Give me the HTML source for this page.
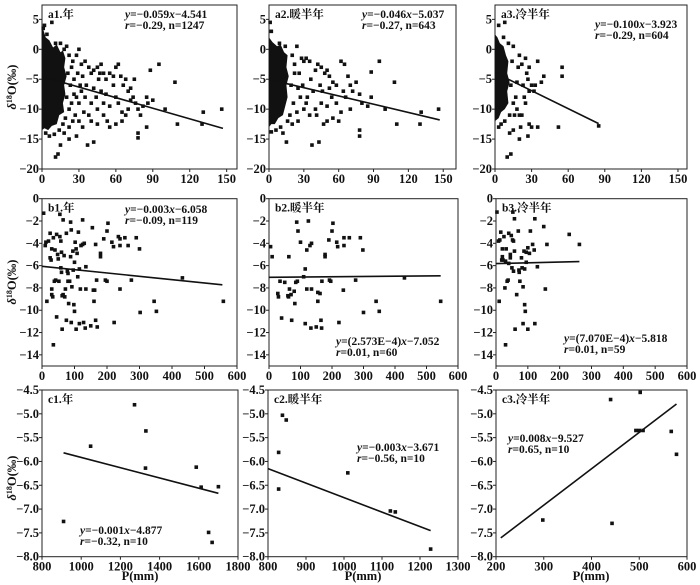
<!DOCTYPE html>
<html><head><meta charset="utf-8">
<style>
html,body{margin:0;padding:0;background:#fff;}
svg{display:block;font-family:"Liberation Serif","Times New Roman","Noto Serif CJK SC",serif;}
text{font-family:"Liberation Serif","Times New Roman","Noto Serif CJK SC",serif;}
.tk{font-size:12.5px;font-weight:bold;fill:#111;}
.tt{font-size:11.5px;font-weight:bold;fill:#111;}
.eq{font-size:11.5px;font-weight:bold;fill:#111;}
</style></head>
<body>
<svg id="chart" width="700" height="585" viewBox="0 0 700 585"></svg>
<script>
// ---- data ----
const a1Points=[[8,4.5],[20,0.5],[30,0],[35,-2],[38,-3],[40,-4],[42,-3.5],[45,-3],[48,-2.5],[50,-4],[52,-5],[55,-4],[58,-4.5],[60,-3],[62,-2.5],[64,-4.5],[66,-6],[68,-5],[70,-7],[72,-6.5],[74,-8],[76,-9],[78,-10],[80,-11],[85,-8],[88,-3.5],[90,-8.5],[95,-2.5],[100,-10],[108,-5.5],[110,-12.5],[131,-10.5],[130,-12.5],[146,-10],[78,-14],[78,-14.8],[85,-13],[65,-12],[60,-12.5],[55,-13],[50,-11],[45,-12.5],[42,-15.5],[37,-16],[28,-14.5],[22,-15],[15,-16],[13,-17.5],[11,-18],[33,-13],[40,-9],[45,-10],[50,-9],[55,-9.5],[60,-8],[65,-10.5],[70,-10],[35,-8],[38,-11],[30,-12],[25,-12],[32,-7],[48,-7],[52,-7.5],[58,-6],[36,-6],[42,-6.5],[46,-5],[62,-9],[68,-11],[72,-8.5],[75,-5],[82,-9.5],[86,-9],[28,-1],[32,-2.5],[26,-5],[30,-9],[34,-10.5],[27,-11],[22,-13],[18,-14],[24,-3],[29,-4],[31,-6],[44,-8],[40,-12],[53,-12],[47,-4],[22,-1],[25,-2],[21,-4],[23,-6],[20,-8],[24,-9],[22,-10],[19,-11.5],[26,-7.5],[28,-8],[33,-4.5],[17,-12.5],[14,-13.5],[10,-14.2],[6,-14.5],[3,-14],[18,0],[15,1],[11,1],[4,2.5],[1,3.5],[2,4]];
const a2Points=[[1,4.5],[2,3],[24,0.5],[28,-1.5],[30,-2],[32,-1.5],[35,-2],[40,-3.5],[42,-2.5],[45,-3],[48,-4],[50,-3.5],[52,-4.5],[55,-5.5],[58,-6],[62,-2],[65,-2.5],[68,-4.5],[70,-6],[72,-7],[75,-5.5],[78,-7.5],[80,-9],[85,-9.5],[88,-3.8],[88,-8],[95,-2],[100,-10],[108,-5.5],[110,-12.5],[130,-12.5],[131,-10.5],[146,-10],[78,-13.5],[78,-14.5],[60,-12],[55,-11.5],[50,-12],[47,-12.5],[43,-15.5],[37,-16],[15,-15.5],[12,-14],[35,-11],[40,-10],[45,-9],[50,-9.5],[58,-9],[62,-10.5],[66,-8],[70,-10],[30,-10],[25,-12],[33,-8],[38,-7],[46,-7],[52,-6.5],[36,-5],[26,-4],[29,-6],[32,-9],[41,-11],[54,-8],[64,-7],[44,-6],[20,-12.5],[22,-4],[27,-8],[20,-1],[22,-2.5],[19,-6],[21,-9],[18,-11],[24,-10.5],[16,-12],[10,-13],[6,-13.5],[2,-13.8],[14,0.5],[9,1],[25,-6.5]];
const a3Points=[[3,4],[8,4.5],[55,-3],[55,-4.5],[35,-2],[40,-4.5],[38,-5.5],[30,-6],[32,-7],[25,-9],[20,-11],[15,-13.5],[13,-17.5],[10,-18],[20,-15],[27,-14.5],[28,-12.5],[35,-13],[52,-13],[30,-13],[22,-11],[18,-10],[24,-8],[26,-4],[28,-3],[20,-1],[15,0.5],[22,-2.5],[12,-14],[5,-12.5],[28,-7],[33,-6],[18,-5.5],[23,-6],[17,-8],[19,-3],[25,-1.5],[27,-5],[85,-12.8],[16,-11],[21,-13],[14,-2],[13,-6],[15,-9],[12,-11],[8,-12],[3,-13],[11,1],[7,2]];
const a1Cloud=[[0,4],[3,2],[6,1.5],[9,0.3],[12,0.8],[15,-0.5],[17,-0.2],[19,-1.5],[18,-3],[20,-4.5],[18,-6],[19,-7.5],[17,-9],[18,-10.5],[14,-11],[12,-12.5],[8,-12.8],[5,-13.5],[2,-13.2],[0,-13.5]];
const a2Cloud=[[0,2],[3,1.2],[7,0.5],[10,0.8],[13,-0.5],[16,-1],[15,-3],[17,-4.5],[15,-6],[16,-8],[14,-9.5],[12,-11],[8,-11.5],[5,-12.5],[2,-12.5],[0,-13]];
const a3Cloud=[[0,2.5],[2,2],[4,1],[7,0.5],[9,-1],[11,-2],[10,-4],[12,-5.5],[10,-7],[11,-9],[8,-10],[5,-10.5],[3,-11.5],[0,-12]];
const b1Points=[[5,-1.3],[10,-4.2],[12,-3.9],[15,-9.2],[20,-3.8],[25,-3.1],[25,-5.3],[30,-4.5],[28,-5.5],[35,-3.5],[30,-8.1],[30,-8.6],[33,-8.8],[35,-13.1],[38,-7.4],[40,-4.6],[42,-7.3],[45,-10.6],[45,-3.2],[48,-5],[50,-5.4],[52,-7.4],[55,-1.4],[55,-3.4],[58,-6.2],[58,-3.8],[60,-4.8],[60,-6.6],[62,-8.7],[62,-11.7],[65,-1.9],[65,-8.6],[68,-5.1],[70,-8.8],[72,-8.1],[75,-3.1],[75,-10.9],[78,-6.5],[80,-6.7],[80,-7.4],[82,-9.4],[85,-7.4],[88,-2.1],[88,-5.2],[90,-2.8],[90,-11.1],[92,-7.9],[95,-4.7],[96,-6.4],[98,-9.5],[100,-10.1],[100,-5.7],[102,-3.9],[105,-4.5],[105,-11.7],[108,-4.9],[110,-7],[112,-3],[115,-11.2],[115,-6.3],[118,-8.1],[120,-4.2],[125,-1.9],[125,-4.1],[128,-11.1],[130,-4],[133,-11.6],[135,-8.1],[135,-6.1],[150,-11.4],[155,-2.6],[158,-8.2],[160,-9.2],[162,-8.2],[165,-4.1],[165,-10.9],[168,-7.3],[170,-11.5],[180,-4.9],[180,-5.2],[190,-3.6],[195,-7.3],[200,-7.4],[200,-2.9],[203,-2.2],[215,-3.9],[220,-4.3],[222,-11.1],[235,-3.4],[240,-3.6],[240,-8.1],[240,-4.2],[255,-3.5],[265,-4.2],[275,-7.3],[290,-3.5],[300,-4.5],[302,-10.2],[345,-9.2],[352,-10.1],[432,-7.1],[558,-9.2]];
const b2Points=[[5,-4.3],[10,-5.2],[28,-8.5],[30,-8.8],[35,-7.4],[40,-10.7],[50,-7.5],[60,-8.7],[62,-8.8],[63,-5.2],[65,-8.1],[70,-8.6],[72,-10.9],[80,-8.3],[82,-9.4],[85,-7.5],[88,-2.1],[90,-7.4],[92,-2.9],[100,-3.9],[110,-7],[115,-6.3],[115,-11.2],[120,-8.1],[120,-4.6],[125,-2],[130,-4.2],[133,-11.6],[135,-4],[135,-8.1],[150,-11.5],[155,-9.2],[155,-8.4],[162,-8.5],[165,-10.9],[167,-11.6],[168,-7.4],[178,-5],[178,-5.2],[190,-3.7],[192,-7.3],[196,-7.4],[200,-2.9],[203,-2.2],[215,-3.9],[218,-4.3],[222,-11.1],[236,-8.2],[238,-3.5],[238,-4.2],[255,-3.5],[275,-7.3],[290,-3.5],[298,-4.6],[300,-10.2],[340,-9.2],[350,-10.1],[430,-7.1],[545,-9.2]];
const b3Points=[[3,-1.2],[8,-3.8],[10,-9.2],[12,-3.7],[15,-3],[18,-5.5],[20,-5.2],[20,-4.5],[22,-5.5],[25,-3.4],[28,-8],[30,-13.1],[30,-5.6],[32,-4.5],[35,-7.4],[38,-7.3],[40,-3.1],[40,-5.8],[45,-5],[45,-5.3],[48,-3.3],[50,-6.2],[52,-3.7],[53,-1.2],[55,-6.5],[55,-3.8],[58,-1.8],[58,-4.7],[60,-11.7],[65,-8.6],[70,-2.9],[72,-6.4],[73,-6.6],[75,-7.4],[80,-5.3],[82,-6.2],[85,-7.9],[85,-11.2],[88,-4.7],[90,-6.3],[90,-9.5],[92,-10.1],[95,-4.8],[95,-5.7],[100,-4.4],[100,-11.7],[105,-4.9],[108,-2.9],[115,-4.1],[120,-4.6],[122,-1.8],[122,-11.2],[130,-6.1],[150,-2.5],[155,-8.1],[160,-4.1],[230,-3.2],[262,-4.1]];
const c1Points=[[910,-7.26],[1048,-5.68],[1272,-4.81],[1330,-5.36],[1328,-6.14],[1587,-6.12],[1612,-6.54],[1650,-7.49],[1668,-7.7],[1700,-6.53]];
const c2Points=[[828,-5.81],[838,-5.03],[848,-5.13],[828,-6.58],[1010,-6.24],[1122,-7.04],[1135,-7.06],[1228,-7.84]];
const c3Points=[[298,-7.23],[440,-4.7],[443,-7.3],[493,-5.35],[500,-5.35],[508,-5.35],[502,-4.55],[567,-5.37],[578,-5.85]];
// regression [slope, intercept, xStart, xEnd]
const a1Fit=[-0.059,-4.541,0,147];
const a2Fit=[-0.046,-5.037,0,147];
const a3Fit=[-0.100,-3.923,0,85];
const b1Fit=[-0.003,-6.058,0,555];
const b2Fit=[0.0002573,-7.052,0,545];
const b3Fit=[0.000707,-5.818,0,262];
const c1Fit=[-0.001076,-4.84,910,1700];
const c2Fit=[-0.00304,-3.72,800,1228];
const c3Fit=[0.00764,-9.21,210,578];
const aYTicks=[5,0,-5,-10,-15,-20];
const aXTicks=[0,30,60,90,120,150];
const bYTicks=[0,-2,-4,-6,-8,-10,-12,-14];
const bXTicks=[0,100,200,300,400,500,600];
const cYTicks=[-4.5,-5.0,-5.5,-6.0,-6.5,-7.0,-7.5,-8.0];
const c1XTicks=[800,1000,1200,1400,1600,1800];
const c2XTicks=[800,900,1000,1100,1200,1300];
const c3XTicks=[200,300,400,500,600];

const NS='http://www.w3.org/2000/svg';
const svg=document.getElementById('chart');
function mk(tag,attrs,parent){const e=document.createElementNS(NS,tag);for(const k in attrs)e.setAttribute(k,attrs[k]);(parent||svg).appendChild(e);return e;}

function panel(id,geo,dom,pts,cloud,fit,xt,yt,yfmt,title,eq,eqPos){
  const g=mk('g',{});
  
  
  const [L,R,T,B]=geo,[x0,x1,y0,y1]=dom;
  const sx=v=>L+(v-x0)/(x1-x0)*(R-L);
  const sy=v=>B-(v-y0)/(y1-y0)*(B-T);
  const fr=mk('rect',{x:L,y:T,width:R-L,height:B-T,fill:'#fff',stroke:'#222','stroke-width':1},g);
  
  
  yt.forEach(v=>{
    mk('line',{x1:L-3,x2:L,y1:sy(v),y2:sy(v),stroke:'#222'},g);
    const t=mk('text',{x:L-3,y:sy(v)+4,'text-anchor':'end',class:'tk'},g);
    t.textContent=yfmt(v).replace('-','\u2212');
    
    
  });
  xt.forEach(v=>{
    mk('line',{x1:sx(v),x2:sx(v),y1:B,y2:B+3,stroke:'#222'},g);
    const t=mk('text',{x:sx(v),y:B+14,'text-anchor':'middle',class:'tk'},g);
    t.textContent=String(v);
    
    
  });
  if(cloud){
    const p=mk('polygon',{points:cloud.map(c=>sx(c[0])+','+sy(c[1])).join(' '),fill:'#111'},g);
    
    
  }
  pts.forEach(p=>{
    const r=mk('rect',{x:sx(p[0])-1.8,y:sy(p[1])-1.8,width:3.6,height:3.6,fill:'#111'},g);
    
    
  });
  const [m,b,xa,xb]=fit;
  const ln=mk('line',{x1:sx(xa),y1:sy(m*xa+b),x2:sx(xb),y2:sy(m*xb+b),stroke:'#111','stroke-width':1.6},g);
  
  
  const tt=mk('text',{x:L+6,y:T+13,class:'tt'},g);
  tt.textContent=title;
  
  
  eq.forEach((s,i)=>{
    const t=mk('text',{x:eqPos[0],y:eqPos[1]+i*11,class:'eq'},g);
    t.innerHTML=s;
    
    
  });
}
const f0=v=>String(v), f1=v=>v.toFixed(1);
const A=[5,169],Bb=[198.7,366],C=[390,556.7];
const it='<tspan font-style="italic">';
panel('a1',[42,237,...A],[0,158.4,-20,7.4],a1Points,a1Cloud,a1Fit,aXTicks,aYTicks,f0,'a1.年',[it+'y</tspan>=\u22120.059'+it+'x</tspan>\u22124.541',it+'r</tspan>=\u22120.29, n=1247'],[125,18]);
panel('a2',[269,456,...A],[0,161,-20,7.4],a2Points,a2Cloud,a2Fit,aXTicks,aYTicks,f0,'a2.暖半年',[it+'y</tspan>=\u22120.046'+it+'x</tspan>\u22125.037',it+'r</tspan>=\u22120.27, n=643'],[362,18]);
panel('a3',[495,687,...A],[0,157.4,-20,7.4],a3Points,a3Cloud,a3Fit,aXTicks,aYTicks,f0,'a3.冷半年',[it+'y</tspan>=\u22120.100'+it+'x</tspan>\u22123.923',it+'r</tspan>=\u22120.29, n=604'],[595,28]);
panel('b1',[42,237,...Bb],[0,600,-15,0],b1Points,null,b1Fit,bXTicks,bYTicks,f0,'b1.年',[it+'y</tspan>=\u22120.003'+it+'x</tspan>\u22126.058',it+'r</tspan>=\u22120.09, n=119'],[125,213]);
panel('b2',[269,458,...Bb],[0,600,-15,0],b2Points,null,b2Fit,bXTicks,bYTicks,f0,'b2.暖半年',[it+'y</tspan>=(2.573E\u22124)'+it+'x</tspan>\u22127.052',it+'r</tspan>=0.01, n=60'],[336,345]);
panel('b3',[496,687,...Bb],[0,600,-15,0],b3Points,null,b3Fit,bXTicks,bYTicks,f0,'b3.冷半年',[it+'y</tspan>=(7.070E\u22124)'+it+'x</tspan>\u22125.818',it+'r</tspan>=0.01, n=59'],[564,342]);
panel('c1',[42,238,...C],[800,1800,-8,-4.5],c1Points,null,c1Fit,c1XTicks,cYTicks,f1,'c1.年',[it+'y</tspan>=\u22120.001'+it+'x</tspan>\u22124.877',it+'r</tspan>=\u22120.32, n=10'],[80,534]);
panel('c2',[268,458,...C],[800,1300,-8,-4.5],c2Points,null,c2Fit,c2XTicks,cYTicks,f1,'c2.暖半年',[it+'y</tspan>=\u22120.003'+it+'x</tspan>\u22123.671',it+'r</tspan>=\u22120.56, n=10'],[357,451]);
panel('c3',[496,687,...C],[200,600,-8,-4.5],c3Points,null,c3Fit,c3XTicks,cYTicks,f1,'c3.冷半年',[it+'y</tspan>=0.008'+it+'x</tspan>\u22129.527',it+'r</tspan>=0.65, n=10'],[508,442]);

[[87,'a'],[282,'b'],[478,'c']].forEach(([cy,r])=>{
  const t=mk('text',{x:0,y:0,transform:'translate(16,'+cy+') rotate(-90)','text-anchor':'middle',class:'tk'});
  t.innerHTML='<tspan font-style="italic">δ</tspan><tspan font-size="8" dy="-4">18</tspan><tspan dy="4">O(‰)</tspan>';
  
  
});
[[140,'c1'],[363,'c2'],[591,'c3']].forEach(([cx,p])=>{
  const t=mk('text',{x:cx,y:580,'text-anchor':'middle',class:'tk'});
  t.textContent='P(mm)';
  
  
});
</script>
</body></html>
